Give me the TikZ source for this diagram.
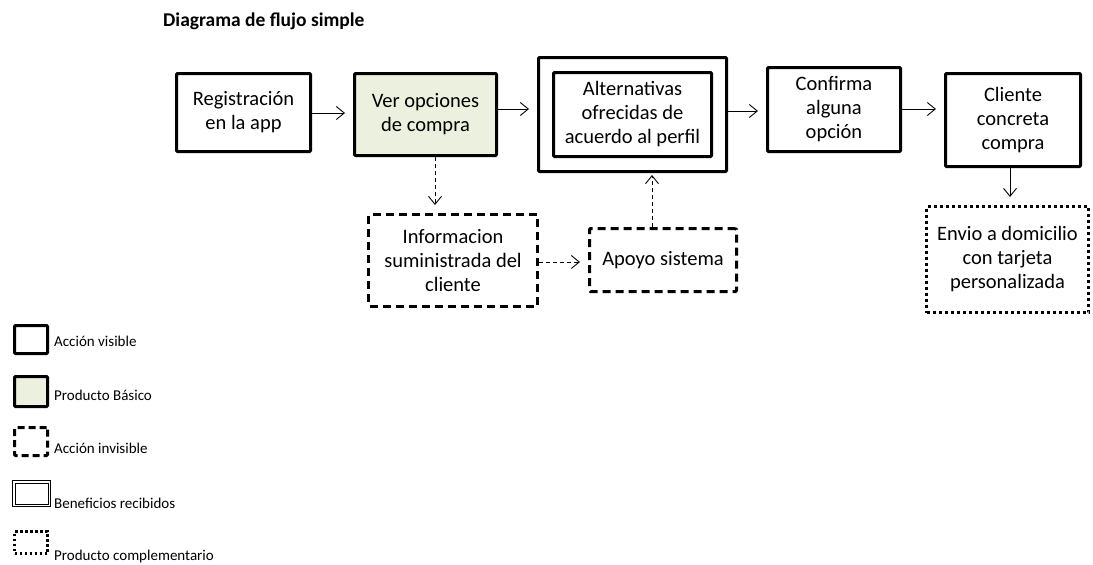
\documentclass[tikz,border=0pt]{standalone}
\usepackage{fontspec}
\setmainfont{Carlito}
\usetikzlibrary{arrows.meta}
\definecolor{basico}{HTML}{EBF1DE}
\tikzset{
  x=1pt, y=-1pt,
  every node/.style={font=\fontsize{20.5}{24}\selectfont, align=center, inner sep=0pt},
  visible/.style={draw, line width=3pt, rounded corners=1pt},
  basic/.style={visible, fill=basico},
  invisible/.style={draw, line width=3pt, dash pattern=on 8pt off 5pt, rounded corners=1pt},
  complement/.style={draw, line width=3pt, dash pattern=on 3pt off 3pt},
  flow/.style={line width=0.8pt, -{Straight Barb[length=8pt,width=13pt,line width=0.9pt]}, shorten >=8pt},
  hidden/.style={flow, dash pattern=on 4pt off 3pt},
  legtext/.style={font=\fontsize{15}{18}\selectfont, anchor=west},
}
\begin{document}
\begin{tikzpicture}
\useasboundingbox (0,0) rectangle (1093,565);

\node[anchor=west, font=\bfseries\fontsize{19.5}{22}\selectfont] (title) at (163,21) {Diagrama de flujo simple};

% main row
\node[visible, minimum width=134pt, minimum height=78pt] (reg) at (243.5,112.5) {Registración\\en la app};
\node[basic, minimum width=142pt, minimum height=82pt] (ver) at (425.5,114.5) {Ver opciones\\de compra};
\node[visible, minimum width=188pt, minimum height=114pt] (altout) at (632.5,114.5) {};
\node[visible, minimum width=158pt, minimum height=84pt] (alt) at (632.5,114.5) {Alternativas\\ofrecidas de\\acuerdo al perfil};
\node[visible, minimum width=133pt, minimum height=84pt] (conf) at (834,109.5) {Confirma\\alguna\\opción};
\node[visible, minimum width=135pt, minimum height=93pt] (cli) at (1013,120) {Cliente\\concreta\\compra};

% hidden actions and complementary product
\node[invisible, minimum width=169pt, minimum height=92pt] (info) at (453,260.5) {Informacion\\suministrada del\\cliente};
\node[invisible, minimum width=147pt, minimum height=63pt] (apoyo) at (663,260) {Apoyo sistema};
\node[complement, minimum width=162pt, minimum height=106pt] (envio) at (1007.5,259.5) {Envio a domicilio\\con tarjeta\\personalizada};

% connectors
\coordinate (verdown) at (435,157);
\coordinate (apoyoup) at (652,227);
\coordinate (clidown) at (1010,168);
\draw[flow] (reg.east |- 0,113) -- (ver.west |- 0,113);
\draw[flow] (ver.east |- 0,109) -- (altout.west |- 0,109);
\draw[flow] (altout.east |- 0,111) -- (conf.west |- 0,111);
\draw[flow] (conf.east |- 0,109) -- (cli.west |- 0,109);
\draw[flow] (clidown) -- (clidown |- envio.north);
\draw[hidden] (verdown) -- (verdown |- info.north);
\draw[hidden] (info.east |- 0,262) -- (apoyo.west |- 0,262);
\draw[hidden, shorten >=2pt] (apoyoup) -- (apoyoup |- altout.south);

% legend
\node[visible, minimum width=33pt, minimum height=28pt] (l1) at (31,339.5) {};
\node[legtext] (t1) at (54,341) {Acción visible};
\node[basic, minimum width=33pt, minimum height=30pt] (l2) at (31,391.5) {};
\node[legtext] (t2) at (54,395) {Producto Básico};
\node[invisible, dash pattern=on 7pt off 4pt, minimum width=33pt, minimum height=28pt] (l3) at (31,441.5) {};
\node[legtext] (t3) at (54,448) {Acción invisible};
\node[draw, line width=0.8pt, minimum width=38pt, minimum height=26pt] (l4) at (31.5,493.5) {};
\node[draw, line width=0.8pt, minimum width=33pt, minimum height=21pt] (l4i) at (31.5,493.5) {};
\node[legtext] (t4) at (54,503) {Beneficios recibidos};
\node[complement, line width=2.5pt, dash pattern=on 2.5pt off 2.5pt, minimum width=33pt, minimum height=22pt] (l5) at (31,542.5) {};
\node[legtext] (t5) at (54,556) {Producto complementario};
\end{tikzpicture}
\end{document}
